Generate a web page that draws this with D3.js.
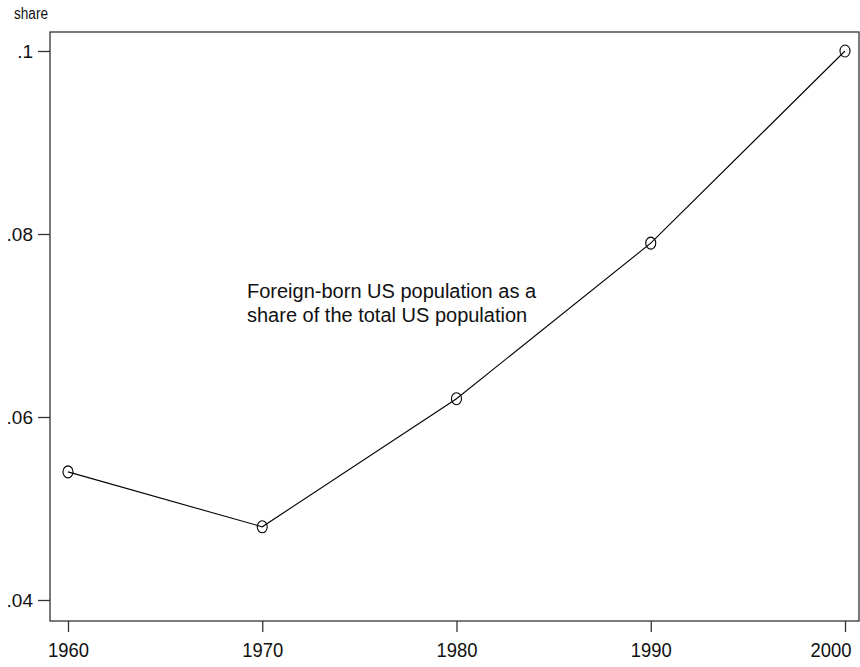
<!DOCTYPE html>
<html>
<head>
<meta charset="utf-8">
<script src="https://cdn.jsdelivr.net/npm/d3@7"></script>
<style>
  html, body { margin: 0; padding: 0; background: #fff; }
  svg { display: block; }
  text { font-family: "Liberation Sans", Arial, sans-serif; fill: #111; }
</style>
</head>
<body>
<svg id="chart" width="860" height="667"></svg>
<script>
const years = [1960, 1970, 1980, 1990, 2000];
const shares = [0.054, 0.048, 0.062, 0.079, 0.1];
const yTicks = [0.04, 0.06, 0.08, 0.1];
const yTickLabels = [".04", ".06", ".08", ".1"];
const xTicks = [1960, 1970, 1980, 1990, 2000];
const yTitle = "share";
const noteLines = ["Foreign-born US population as a", "share of the total US population"];

const svg = d3.select("#chart");
const frame = { left: 50, top: 32, right: 859, bottom: 621 };

const x = d3.scaleLinear().domain([1960, 2000]).range([68, 845]);
const y = d3.scaleLinear().domain([0.04, 0.1]).range([600, 51]);

// frame
svg.append("rect")
  .attr("x", frame.left).attr("y", frame.top)
  .attr("width", frame.right - frame.left).attr("height", frame.bottom - frame.top)
  .attr("fill", "none").attr("stroke", "#333").attr("stroke-width", 1.3);

// y axis
const yAxis = d3.axisLeft(y).tickValues(yTicks)
  .tickFormat((d, i) => yTickLabels[i]).tickSizeOuter(0).tickSize(12).tickPadding(5);
const gy = svg.append("g").attr("transform", `translate(${frame.left},0)`).call(yAxis);
gy.select(".domain").remove();
gy.selectAll(".tick line").attr("stroke", "#333").attr("stroke-width", 1.3);
gy.selectAll(".tick text").attr("font-size", 19).attr("font-family", "Liberation Sans").attr("fill", "#111")
  .attr("dy", "0.34em");

// x axis
const xAxis = d3.axisBottom(x).tickValues(xTicks)
  .tickFormat(d3.format("d")).tickSizeOuter(0).tickSize(11).tickPadding(11);
const gx = svg.append("g").attr("transform", `translate(0,${frame.bottom})`).call(xAxis);
gx.select(".domain").remove();
gx.selectAll(".tick line").attr("stroke", "#333").attr("stroke-width", 1.3);
gx.selectAll(".tick text").attr("font-size", 20).attr("font-family", "Liberation Sans").attr("fill", "#111")
  .attr("textLength", 41).attr("lengthAdjust", "spacingAndGlyphs");
gx.selectAll(".tick text").filter(d => d === 2000).attr("text-anchor", "end").attr("x", 6);

// y title
svg.append("text").attr("x", 14).attr("y", 19).attr("font-size", 16)
  .attr("textLength", 34).attr("lengthAdjust", "spacingAndGlyphs").text(yTitle);

// line
const data = years.map((yr, i) => ({ year: yr, share: shares[i] }));
svg.append("path").datum(data)
  .attr("fill", "none").attr("stroke", "#000").attr("stroke-width", 1.1)
  .attr("d", d3.line().x(d => x(d.year)).y(d => y(d.share)));

svg.selectAll("ellipse.pt").data(data).enter().append("ellipse")
  .attr("class", "pt")
  .attr("cx", d => x(d.year)).attr("cy", d => y(d.share))
  .attr("rx", 5).attr("ry", 6)
  .attr("fill", "none").attr("stroke", "#000").attr("stroke-width", 1.1);

// annotation
const note = svg.append("text").attr("x", 247).attr("y", 298).attr("font-size", 20);
note.selectAll("tspan").data(noteLines).enter().append("tspan")
  .attr("x", 247).attr("dy", (d, i) => i === 0 ? 0 : 24).text(d => d);
</script>
</body>
</html>
